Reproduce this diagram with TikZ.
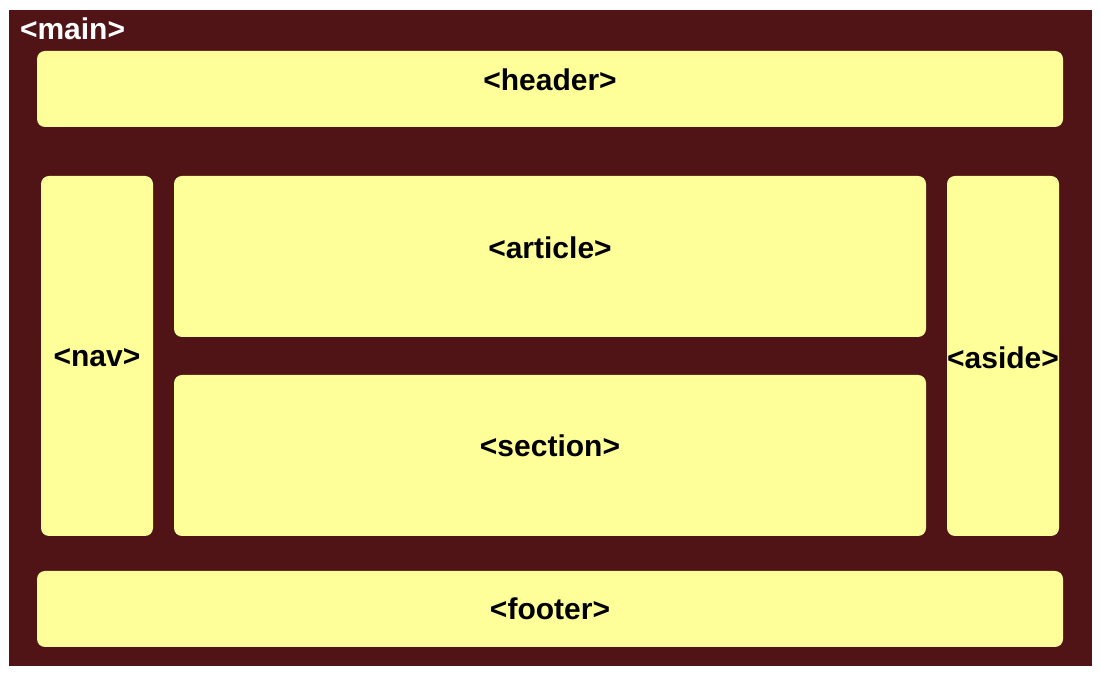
\documentclass[tikz,border=0pt]{standalone}
\usepackage{fontspec}
\setmainfont{Liberation Sans}
\usetikzlibrary{positioning}
\begin{document}
\begin{tikzpicture}[x=1pt,y=1pt,
  part/.style={fill=partColor,rounded corners=8pt,inner sep=0pt,outer sep=0pt},
  tag/.style={text=black,font=\fontsize{30}{33}\selectfont\bfseries,inner sep=0pt,outer sep=0pt}]
\definecolor{bgColor}{RGB}{255,255,255}
\definecolor{mainColor}{RGB}{80,20,22}
\definecolor{partColor}{RGB}{255,255,153}
\path[use as bounding box,fill=bgColor] (0,0) rectangle (1100,676);

% outer main block
\path[fill=mainColor] (9,10) rectangle (1092,666);
\node[tag,text=white,anchor=west] (maintag) at (20,647) {<main>};

% inner blocks
\node[part,minimum width=1026,minimum height=76] (header) at (550,587) {};
\node[part,minimum width=112,minimum height=360] (nav) at (97,320) {};
\node[part,minimum width=752,minimum height=161] (article) at (550,419.5) {};
\node[part,minimum width=752,minimum height=161] (section) at (550,220.5) {};
\node[part,minimum width=112,minimum height=360] (aside) at (1003,320) {};
\node[part,minimum width=1026,minimum height=76] (footer) at (550,67) {};

% labels
\node[tag] (headertag) at ([yshift=9]header.center) {<header>};
\node[tag] (navtag) at ([yshift=-2]nav.center) {<nav>};
\node[tag] (articletag) at ([yshift=9]article.center) {<article>};
\node[tag] (sectiontag) at ([yshift=10]section.center) {<section>};
\node[tag] (asidetag) at ([yshift=-2]aside.center) {<aside>};
\node[tag] (footertag) at (footer.center) {<footer>};
\end{tikzpicture}
\end{document}
